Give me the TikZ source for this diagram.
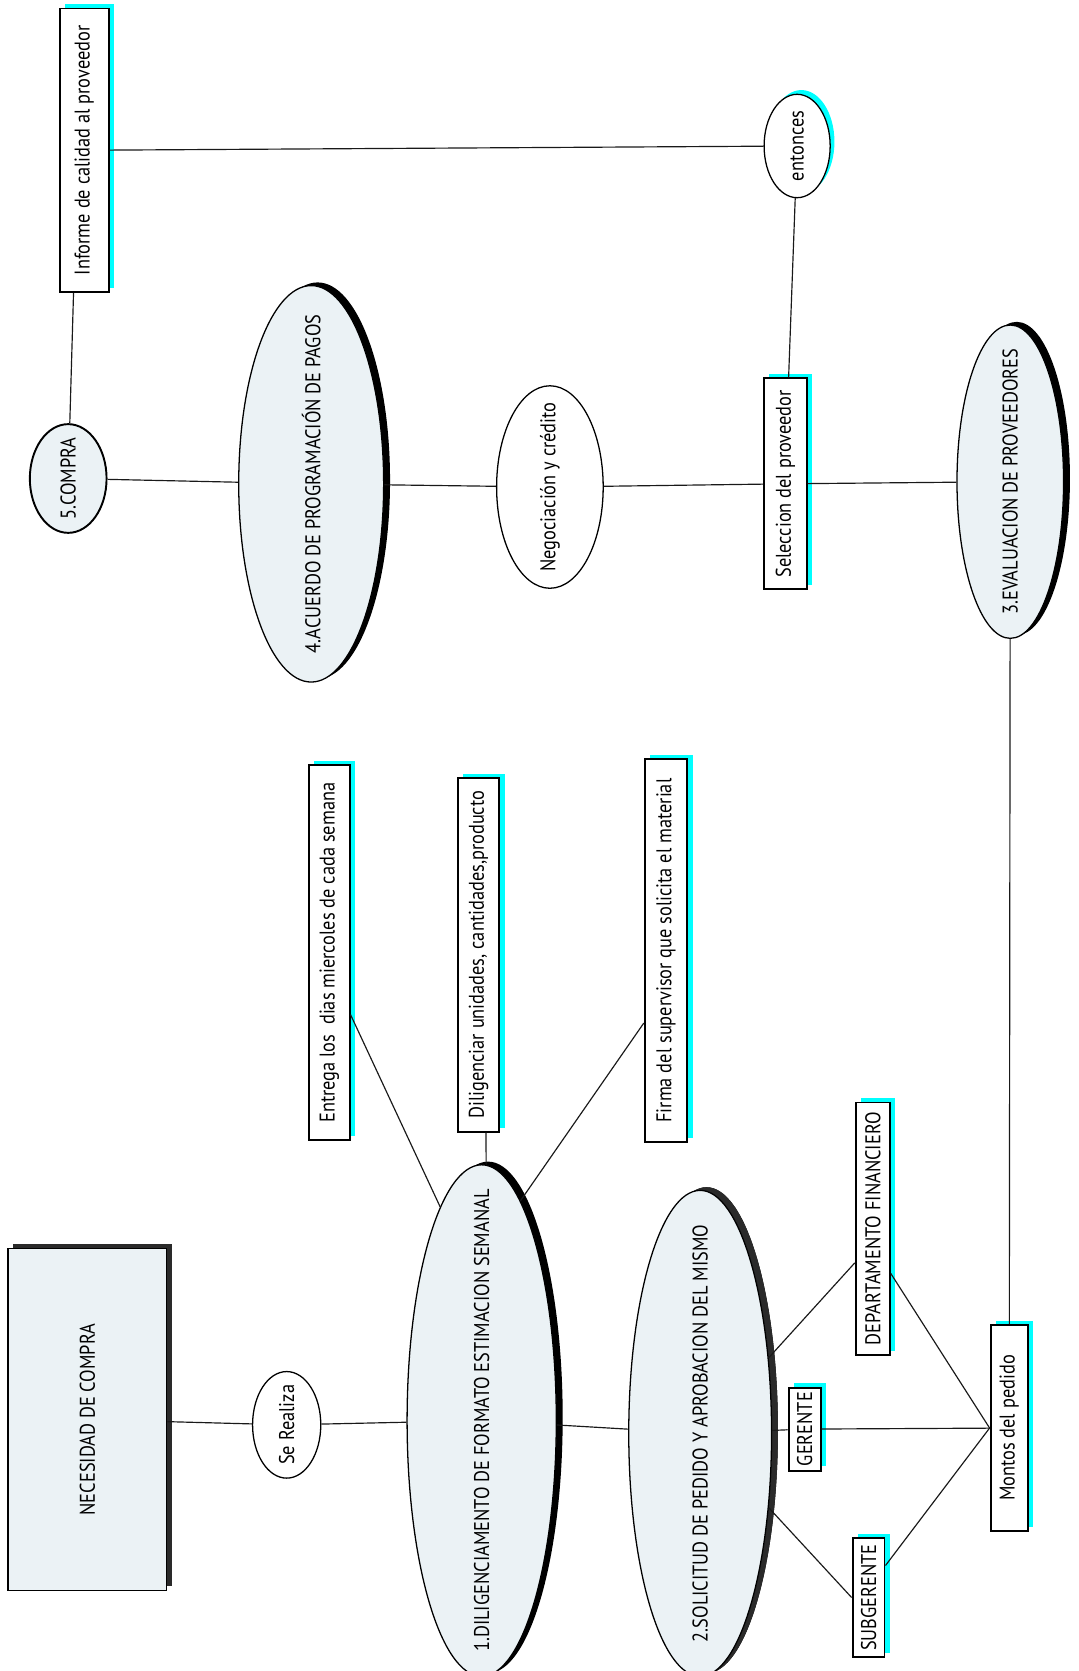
\documentclass[tikz,border=0pt]{standalone}
\usepackage{fontspec}
\newfontfamily\diafont[FakeStretch=0.86]{PT Sans}
\usetikzlibrary{shapes.geometric,shadows,calc}
\definecolor{paleblue}{HTML}{EBF2F5}
\definecolor{shadowcyan}{HTML}{00FFFF}
\definecolor{darkshade}{HTML}{2A2A2A}
\newcommand{\uptext}[1]{\rotatebox{90}{#1}}

\begin{document}
\begin{tikzpicture}[x=1pt,y=-1pt,
  every node/.style={font=\diafont\fontsize{20}{24}\selectfont, inner sep=0pt},
  every label/.style={font=\diafont\fontsize{20}{24}\selectfont, inner sep=0pt},
  link/.style={line width=1.1pt, draw=black!90},
  tagbox/.style={rectangle, draw=black, line width=1.8pt, fill=white,
    drop shadow={shadow xshift=5pt, shadow yshift=4pt, fill=shadowcyan, opacity=1}},
  stage/.style={ellipse, draw=black, line width=1.2pt, fill=paleblue,
    drop shadow={shadow xshift=6pt, shadow yshift=3pt, fill=black, opacity=1}},
  bubble/.style={ellipse, draw=black, line width=1.2pt, fill=white},
]
\useasboundingbox (0,0) rectangle (1012,1568);

% starting need
\node[rectangle, draw=black, line width=1.1pt, fill=paleblue,
  drop shadow={shadow xshift=5pt, shadow yshift=4pt, fill=darkshade, opacity=1},
  minimum width=149pt, minimum height=321pt] (nec) at (82,1332) {\uptext{NECESIDAD DE COMPRA}};
\node[bubble, minimum width=64pt, minimum height=100pt, label={center:\uptext{Se Realiza}}] (real) at (269,1337) {};

% stage 1 and its details
\node[stage, minimum width=140pt, minimum height=480pt,
  label={center:\uptext{1.DILIGENCIAMENTO DE FORMATO ESTIMACION SEMANAL}}] (e1) at (452,1333) {};
\node[tagbox, minimum width=38pt, minimum height=352pt] (entrega) at (309,894) {\uptext{Entrega los\ \ dias miercoles de cada semana}};
\node[tagbox, minimum width=39pt, minimum height=332pt] (dilig) at (449,896) {\uptext{Diligenciar unidades, cantidades,producto}};
\node[tagbox, minimum width=40pt, minimum height=359pt] (firma) at (625,892) {\uptext{Firma del supervisor que solicita el material}};

% stage 2 and approvals
\node[stage, minimum width=134pt, minimum height=456pt,
  drop shadow={shadow xshift=6pt, shadow yshift=3pt, fill=darkshade, opacity=1},
  label={center:\uptext{2.SOLICITUD DE PEDIDO Y APROBACION DEL MISMO}}] (e2) at (657,1345) {};
\node[tagbox, minimum width=32pt, minimum height=237pt] (dept) at (819,1153) {\uptext{DEPARTAMENTO FINANCIERO}};
\node[tagbox, minimum width=30pt, minimum height=78pt] (ger) at (755,1341) {\uptext{GERENTE}};
\node[tagbox, minimum width=30pt, minimum height=112pt] (sub) at (815,1499) {\uptext{SUBGERENTE}};
\node[tagbox, minimum width=35pt, minimum height=193pt] (montos) at (947,1340) {\uptext{Montos del pedido}};

% stage 3 and supplier choice
\node[stage, minimum width=100pt, minimum height=294pt,
  label={center:\uptext{3.EVALUACION DE PROVEEDORES}}] (e3) at (948,452) {};
\node[tagbox, minimum width=40pt, minimum height=198pt] (sel) at (737,454) {\uptext{Seleccion del proveedor}};
\node[bubble, minimum width=62pt, minimum height=97pt,
  drop shadow={shadow xshift=4pt, shadow yshift=4pt, fill=shadowcyan, opacity=1},
  label={center:\uptext{entonces}}] (ent) at (748,137) {};
\node[bubble, minimum width=100pt, minimum height=190pt, label={center:\uptext{Negociación y crédito}}] (neg) at (516,457) {};

% stage 4 and purchase
\node[stage, minimum width=136pt, minimum height=372pt,
  label={center:\uptext{4.ACUERDO DE PROGRAMACIÓN DE PAGOS}}] (e4) at (292,454) {};
\node[ellipse, draw=black, line width=1.8pt, fill=paleblue, minimum width=72pt, minimum height=102pt,
  label={center:\uptext{5.COMPRA}}] (compra) at (64,449) {};
\node[tagbox, minimum width=46pt, minimum height=266pt] (inf) at (79,141) {\uptext{Informe de calidad al proveedor}};

% connectors
\draw[link] (nec) -- (real);
\draw[link] (real) -- (e1);
\draw[link] (e1) -- (e2);
\draw[link] ([yshift=-58pt]entrega.east) -- (e1.101);
\draw[link] ([xshift=7pt]dilig.south) -- (e1.89);
\draw[link] ([yshift=-68pt]firma.west) -- (e1.80);
\draw[link] (e2) -- ([yshift=-32pt]dept.west);
\draw[link] (e2) -- (ger);
\draw[link] (e2) -- (sub.west);
\draw[link] (ger) -- (montos);
\draw[link] ([yshift=-42pt]dept.east) -- (montos.west);
\draw[link] ([yshift=30pt]sub.east) -- (montos.west);
\draw[link] (montos) -- (e3);
\draw[link] (sel) -- (e3);
\draw[link] (neg) -- (sel);
\draw[link] (e4) -- (neg);
\draw[link] (compra) -- (e4);
\draw[link] (compra) -- ([xshift=-10pt]inf.south);
\draw[link] (inf) -- (ent);
\draw[link] (ent) -- ([xshift=3pt]sel.north);
\end{tikzpicture}
\end{document}
